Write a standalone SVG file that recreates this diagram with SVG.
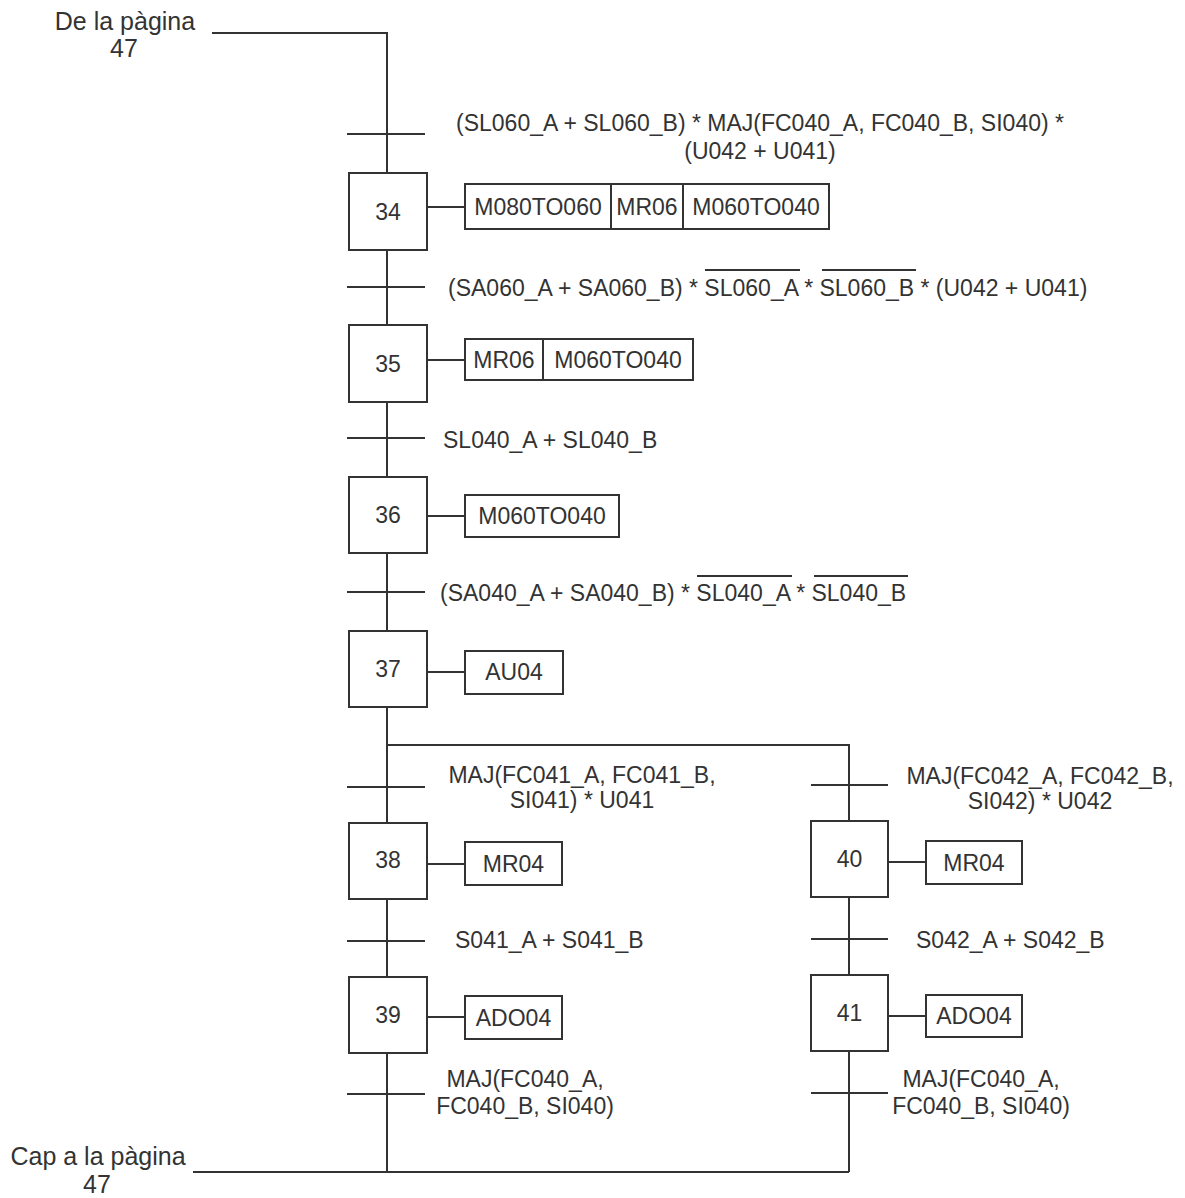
<svg xmlns="http://www.w3.org/2000/svg" width="1185" height="1198" viewBox="0 0 1185 1198">
<style>
.ln{stroke:#333;stroke-width:2;fill:none}
.box{stroke:#333;stroke-width:2;fill:#fff}
text{font-family:"Liberation Sans",Arial,sans-serif;font-size:23px;fill:#333}
.c{text-anchor:middle}
.pg{font-size:25px}
</style>
<rect width="1185" height="1198" fill="#fff"/>
<g id="connectors" class="ln">
  <path d="M212 33 H387 V173"/>
  <path d="M387 250 V325"/>
  <path d="M387 402 V477"/>
  <path d="M387 553 V631"/>
  <path d="M387 707 V823"/>
  <path d="M387 745 H849 V821"/>
  <path d="M387 899 V977"/>
  <path d="M387 1053 V1172"/>
  <path d="M849 897 V975"/>
  <path d="M849 1051 V1172"/>
  <path d="M193 1172 H849"/>
  <path d="M427 207 H465 M427 360 H465 M427 516 H465 M427 672 H465 M427 864 H465 M427 1017 H465 M888 862 H926 M888 1016 H926"/>
</g>
<g id="page-labels">
  <text class="c pg" x="125" y="30">De la pàgina</text>
  <text class="c pg" x="124" y="57">47</text>
  <text class="c pg" x="98" y="1165">Cap a la pàgina</text>
  <text class="c pg" x="97" y="1193">47</text>
</g>
<g id="t1"><path class="ln" d="M347 134 H425"/>
  <text class="c" x="760" y="131">(SL060_A + SL060_B) * MAJ(FC040_A, FC040_B, SI040) *</text>
  <text class="c" x="760" y="159">(U042 + U041)</text></g>
<g id="step34"><rect class="box" x="349" y="173" width="78" height="77"/><text class="c" x="388" y="220">34</text></g>
<g id="action34"><rect class="box" x="465" y="184" width="364" height="45"/><path class="ln" d="M611 184 V229 M683 184 V229"/>
  <text class="c" x="538" y="215">M080TO060</text><text class="c" x="647" y="215">MR06</text><text class="c" x="756" y="215">M060TO040</text></g>
<g id="t2"><path class="ln" d="M347 287 H425"/>
  <text x="448" y="296">(SA060_A + SA060_B) * SL060_A * SL060_B * (U042 + U041)</text>
  <path class="ln" d="M705 270 H800 M822 270 H916"/></g>
<g id="step35"><rect class="box" x="349" y="325" width="78" height="77"/><text class="c" x="388" y="372">35</text></g>
<g id="action35"><rect class="box" x="465" y="339" width="228" height="41"/><path class="ln" d="M543 339 V380"/>
  <text class="c" x="504" y="368">MR06</text><text class="c" x="618" y="368">M060TO040</text></g>
<g id="t3"><path class="ln" d="M347 438 H425"/><text x="443" y="448">SL040_A + SL040_B</text></g>
<g id="step36"><rect class="box" x="349" y="477" width="78" height="76"/><text class="c" x="388" y="523">36</text></g>
<g id="action36"><rect class="box" x="465" y="495" width="154" height="42"/><text class="c" x="542" y="524">M060TO040</text></g>
<g id="t4"><path class="ln" d="M347 592 H425"/>
  <text x="440" y="601">(SA040_A + SA040_B) * SL040_A * SL040_B</text>
  <path class="ln" d="M697 576 H792 M814 576 H908"/></g>
<g id="step37"><rect class="box" x="349" y="631" width="78" height="76"/><text class="c" x="388" y="677">37</text></g>
<g id="action37"><rect class="box" x="465" y="651" width="98" height="43"/><text class="c" x="514" y="680">AU04</text></g>
<g id="t5"><path class="ln" d="M347 787 H425"/>
  <text class="c" x="582" y="783">MAJ(FC041_A, FC041_B,</text><text class="c" x="582" y="808">SI041) * U041</text></g>
<g id="step38"><rect class="box" x="349" y="823" width="78" height="76"/><text class="c" x="388" y="868">38</text></g>
<g id="action38"><rect class="box" x="465" y="842" width="97" height="43"/><text class="c" x="513.5" y="872">MR04</text></g>
<g id="t6"><path class="ln" d="M347 941 H425"/><text x="455" y="948">S041_A + S041_B</text></g>
<g id="step39"><rect class="box" x="349" y="977" width="78" height="76"/><text class="c" x="388" y="1023">39</text></g>
<g id="action39"><rect class="box" x="465" y="996" width="97" height="43"/><text class="c" x="513.5" y="1026">ADO04</text></g>
<g id="t7"><path class="ln" d="M347 1094 H425"/>
  <text class="c" x="525" y="1087">MAJ(FC040_A,</text><text class="c" x="525" y="1114">FC040_B, SI040)</text></g>
<g id="t8"><path class="ln" d="M811 785 H888"/>
  <text class="c" x="1040" y="784">MAJ(FC042_A, FC042_B,</text><text class="c" x="1040" y="809">SI042) * U042</text></g>
<g id="step40"><rect class="box" x="811" y="821" width="77" height="76"/><text class="c" x="849.5" y="867">40</text></g>
<g id="action40"><rect class="box" x="926" y="841" width="96" height="43"/><text class="c" x="974" y="871">MR04</text></g>
<g id="t9"><path class="ln" d="M811 939 H888"/><text x="916" y="948">S042_A + S042_B</text></g>
<g id="step41"><rect class="box" x="811" y="975" width="77" height="76"/><text class="c" x="849.5" y="1021">41</text></g>
<g id="action41"><rect class="box" x="926" y="995" width="96" height="42"/><text class="c" x="974" y="1024">ADO04</text></g>
<g id="t10"><path class="ln" d="M811 1093 H888"/>
  <text class="c" x="981" y="1087">MAJ(FC040_A,</text><text class="c" x="981" y="1114">FC040_B, SI040)</text></g>
</svg>
